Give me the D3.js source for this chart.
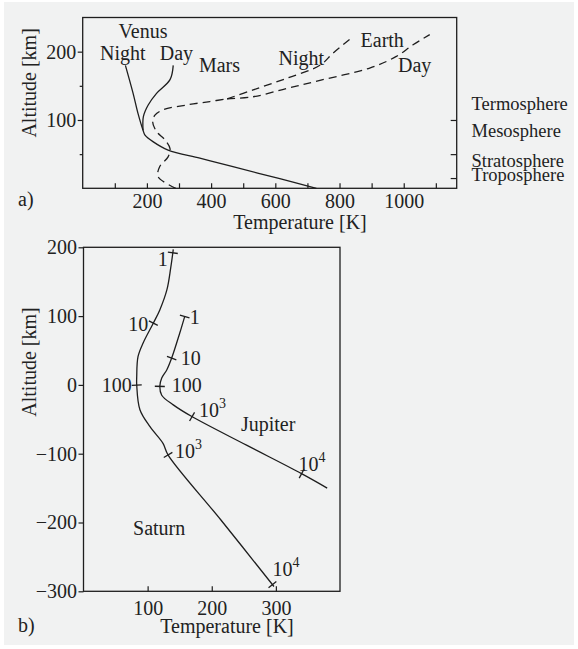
<!DOCTYPE html>
<html>
<head>
<meta charset="utf-8">
<script src="https://cdn.jsdelivr.net/npm/d3@7"></script>
<style>
  body { margin: 0; background: #fff; }
  text { font-family: "Liberation Serif", "Times New Roman", serif; fill: #222; }
</style>
</head>
<body>
<div id="chart"></div>
<script>
// ---------------- DATA ----------------
// panel a) : [temperature K, altitude km]
const venusNight = [[728,0],[614,14],[468,31.6],[365,44],[266,56],[220,68],[194,78],[188,85],[172,110],[157,139],[133,180]];
const venusDay = [[188,85],[189,105],[204,122],[230,139],[272,159],[282,180]];
const earthLow = [[290,0],[235,17],[240,32],[266,46],[272,58],[256,71],[230,83],[218,97],[225,107],[251,115],[324,122],[396,127],[450,131]];
const earthNight = [[450,131],[531,144],[635,161],[739,180],[780,198],[837,220]];
const earthDay = [[450,131],[531,134],[635,146],[739,158],[894,176],[977,193],[1029,210],[1081,225]];
const layerBounds = [15, 50, 100];
const layerNames = ["Termosphere","Mesosphere","Stratosphere","Troposphere"];
const layerLabelAlt = [114.5, 75.5, 31, 10.5];
const topLabels = [
  ["Venus",188,220],["Night",125,188],["Day",292,188],["Mars",426,170],
  ["Night",681,180],["Earth",933,207],["Day",1034,170]
];
const topXTicks = [100,200,300,400,500,600,700,800,900,1000,1100];
const topXLabels = [200,400,600,800,1000];
const topYMajor = [100,200];
const topYMinor = [50,150];

// panel b)
const saturn = [[140,197],[136,170],[130,138],[119,109],[109,90],[93,61],[85,41],[83,12],[83,0],[88,-36],[104,-61],[124,-85],[132,-102],[214,-196],[297,-293]];
const jupiter = [[158,100],[150,75],[137.5,39],[130,22],[122,10],[119,-2],[122,-15],[140,-29],[169,-46],[255,-88],[340,-129],[380,-150]];
// pressure marks: [temperature, altitude, label, exponent]
const saturnMarks = [[139,192,"1",""],[109,90,"10",""],[83,0,"100",""],[132,-102,"10","3"],[295,-290,"10","4"]];
const jupiterMarks = [[158,99,"1",""],[137.5,39,"10",""],[119,-2,"100",""],[169,-46,"10","3"],[340,-129,"10","4"]];
const botLabels = [["Jupiter",288,-67],["Saturn",118,-218]];
const botXTicks = [100,200,300];
const botYTicks = [-300,-200,-100,0,100,200];

// ---------------- SVG ----------------
const W = 578, H = 649;
const svg = d3.select("#chart").append("svg")
  .attr("width", W).attr("height", H);

svg.append("rect").attr("x", 4).attr("y", 2).attr("width", 570).attr("height", 643)
  .attr("fill", "#f1f2f2");

const ink = "#1e1e1e";
const line = d3.line().curve(d3.curveCatmullRom.alpha(0.5));

// ---------------- PANEL A ----------------
const xA = d3.scaleLinear().domain([0, 1165]).range([82.7, 456.7]);
const yA = d3.scaleLinear().domain([0, 250]).range([188.3, 17.5]);
const lineA = line.x(d => xA(d[0])).y(d => yA(d[1]));

const gA = svg.append("g");

gA.append("g").attr("transform", `translate(0,${yA(0)})`)
  .call(d3.axisBottom(xA).tickValues(topXTicks).tickSize(-5).tickPadding(5.5)
    .tickFormat(d => topXLabels.includes(d) ? d : ""));
gA.append("g").attr("transform", `translate(${xA(0)},0)`)
  .call(d3.axisLeft(yA).tickValues(topYMajor).tickSize(5).tickPadding(1.5));
gA.append("g").attr("transform", `translate(${xA(0)},0)`)
  .call(d3.axisLeft(yA).tickValues(topYMinor).tickSize(3).tickFormat(""));
gA.append("g").attr("transform", `translate(${xA(1165)},0)`)
  .call(d3.axisRight(yA).tickValues(layerBounds).tickSize(-6).tickFormat(""));

gA.append("rect")
  .attr("x", xA(0)).attr("y", yA(250))
  .attr("width", xA(1165) - xA(0)).attr("height", yA(0) - yA(250))
  .attr("fill", "none").attr("stroke", ink).attr("stroke-width", 1.3);

[[venusNight, null], [venusDay, null], [earthLow, "8,5"], [earthNight, "8,5"], [earthDay, "8,5"]]
  .forEach(([pts, dash]) => {
    gA.append("path").attr("d", lineA(pts))
      .attr("fill", "none").attr("stroke", ink).attr("stroke-width", 1.3)
      .attr("stroke-dasharray", dash);
  });

topLabels.forEach(([t, tx, ay]) => {
  gA.append("text").attr("x", xA(tx)).attr("y", yA(ay))
    .attr("text-anchor", "middle").style("font-size", "20px").text(t);
});

layerNames.forEach((n, i) => {
  gA.append("text").attr("x", 471.5).attr("y", yA(layerLabelAlt[i]))
    .style("font-size", "18.5px").text(n);
});

gA.append("text").attr("transform", `translate(36,${(yA(0) + yA(250)) / 2 - 20}) rotate(-90)`)
  .attr("text-anchor", "middle").style("font-size", "20px").text("Altitude [km]");
gA.append("text").attr("x", 300).attr("y", 228.5)
  .attr("text-anchor", "middle").style("font-size", "20px").text("Temperature [K]");
gA.append("text").attr("x", 18).attr("y", 206).style("font-size", "20px").text("a)");

// ---------------- PANEL B ----------------
const xB = d3.scaleLinear().domain([0, 400]).range([83.5, 340]);
const yB = d3.scaleLinear().domain([-300, 200]).range([591.3, 247.3]);
const lineB = d3.line().curve(d3.curveCatmullRom.alpha(0.5)).x(d => xB(d[0])).y(d => yB(d[1]));

const gB = svg.append("g");

gB.append("g").attr("transform", `translate(0,${yB(-300)})`)
  .call(d3.axisBottom(xB).tickValues(botXTicks).tickSize(-5).tickPadding(9.5));
gB.append("g").attr("transform", `translate(${xB(0)},0)`)
  .call(d3.axisLeft(yB).tickValues(botYTicks).tickSize(5).tickPadding(1.5));

gB.append("rect")
  .attr("x", xB(0)).attr("y", yB(200))
  .attr("width", xB(400) - xB(0)).attr("height", yB(-300) - yB(200))
  .attr("fill", "none").attr("stroke", ink).attr("stroke-width", 1.3);

function drawCurve(pts, marks, place) {
  const path = gB.append("path").attr("d", lineB(pts))
    .attr("fill", "none").attr("stroke", ink).attr("stroke-width", 1.3);
  const node = path.node();
  const L = node.getTotalLength();
  const samples = d3.range(0, L, 0.5).map(s => { const p = node.getPointAtLength(s); return [s, p.x, p.y]; });
  marks.forEach((m, i) => {
    const mx = xB(m[0]), my = yB(m[1]);
    const best = d3.least(samples, s => (s[1] - mx) ** 2 + (s[2] - my) ** 2);
    const a = node.getPointAtLength(Math.max(0, best[0] - 3));
    const b = node.getPointAtLength(Math.min(L, best[0] + 3));
    let tx = b.x - a.x, ty = b.y - a.y;
    const len = Math.hypot(tx, ty) || 1;
    const nx = -ty / len * 5, ny = tx / len * 5;
    gB.append("line")
      .attr("x1", best[1] - nx).attr("y1", best[2] - ny)
      .attr("x2", best[1] + nx).attr("y2", best[2] + ny)
      .attr("stroke", ink).attr("stroke-width", 1.3);
    const [anchor, dx, dy] = place[i];
    const t = gB.append("text").attr("x", best[1] + dx).attr("y", best[2] + dy)
      .attr("text-anchor", anchor).style("font-size", "20px").text(m[2]);
    if (m[3]) t.append("tspan").attr("dy", -9).style("font-size", "14px").text(m[3]);
  });
}

drawCurve(saturn, saturnMarks, [["end",-5,13],["end",-5,8],["end",-5,7],["start",7,3],["start",0,-9]]);
drawCurve(jupiter, jupiterMarks, [["start",5,7],["start",9,7],["start",12,6],["start",7,0],["start",-3,-3]]);

botLabels.forEach(([t, tx, ay]) => {
  gB.append("text").attr("x", xB(tx)).attr("y", yB(ay))
    .attr("text-anchor", "middle").style("font-size", "20px").text(t);
});

gB.append("text").attr("transform", `translate(36,362) rotate(-90)`)
  .attr("text-anchor", "middle").style("font-size", "20px").text("Altitude [km]");
gB.append("text").attr("x", 227).attr("y", 632.5)
  .attr("text-anchor", "middle").style("font-size", "20px").text("Temperature [K]");
gB.append("text").attr("x", 18).attr("y", 632).style("font-size", "20px").text("b)");

// axis styling
svg.selectAll(".domain").remove();
svg.selectAll(".tick line").attr("stroke", ink).attr("stroke-width", 1.2);
svg.selectAll(".tick text")
  .style("font-family", '"Liberation Serif", "Times New Roman", serif')
  .style("font-size", "20px").attr("fill", "#222");
</script>
</body>
</html>
